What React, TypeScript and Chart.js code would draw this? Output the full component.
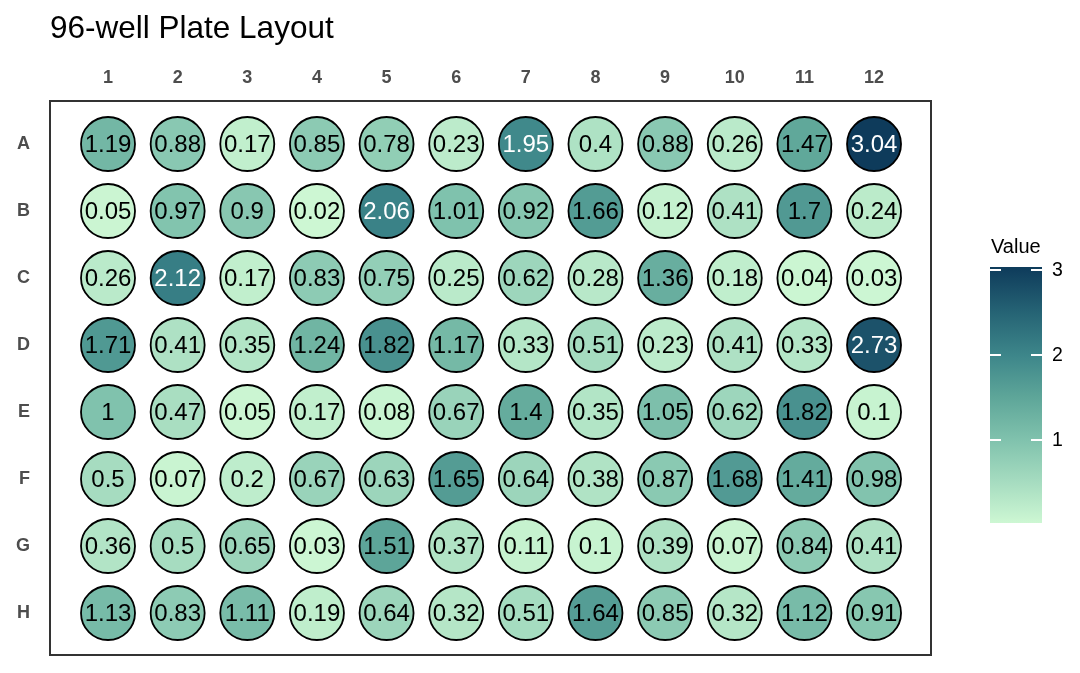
import React, { useEffect, useRef } from "react";
import { Chart, registerables } from "chart.js";

Chart.register(...registerables);

const titleText = "96-well Plate Layout";
const legendTitle = "Value";
const rowLabels = ["A", "B", "C", "D", "E", "F", "G", "H"];
const colLabels = ["1", "2", "3", "4", "5", "6", "7", "8", "9", "10", "11", "12"];

const rowA = [1.19, 0.88, 0.17, 0.85, 0.78, 0.23, 1.95, 0.4, 0.88, 0.26, 1.47, 3.04];
const rowB = [0.05, 0.97, 0.9, 0.02, 2.06, 1.01, 0.92, 1.66, 0.12, 0.41, 1.7, 0.24];
const rowC = [0.26, 2.12, 0.17, 0.83, 0.75, 0.25, 0.62, 0.28, 1.36, 0.18, 0.04, 0.03];
const rowD = [1.71, 0.41, 0.35, 1.24, 1.82, 1.17, 0.33, 0.51, 0.23, 0.41, 0.33, 2.73];
const rowE = [1, 0.47, 0.05, 0.17, 0.08, 0.67, 1.4, 0.35, 1.05, 0.62, 1.82, 0.1];
const rowF = [0.5, 0.07, 0.2, 0.67, 0.63, 1.65, 0.64, 0.38, 0.87, 1.68, 1.41, 0.98];
const rowG = [0.36, 0.5, 0.65, 0.03, 1.51, 0.37, 0.11, 0.1, 0.39, 0.07, 0.84, 0.41];
const rowH = [1.13, 0.83, 1.11, 0.19, 0.64, 0.32, 0.51, 1.64, 0.85, 0.32, 1.12, 0.91];

const plateValues = [rowA, rowB, rowC, rowD, rowE, rowF, rowG, rowH];
const legendTicks = [1, 2, 3];

// colour ramp (fraction of range -> colour)
const colorStops: [number, number[]][] = [
  [0.0, [205, 247, 211]],
  [0.16, [166, 220, 192]],
  [0.325, [128, 194, 173]],
  [0.49, [94, 166, 153]],
  [0.655, [61, 134, 138]],
  [0.82, [38, 100, 117]],
  [1.0, [14, 59, 91]],
];

const allVals = plateValues.flat();
const vMin = Math.min(...allVals);
const vMax = Math.max(...allVals);

function rampColor(v: number): string {
  const t = Math.max(0, Math.min(1, (v - vMin) / (vMax - vMin)));
  for (let i = 0; i < colorStops.length - 1; i++) {
    const [t0, c0] = colorStops[i];
    const [t1, c1] = colorStops[i + 1];
    if (t >= t0 && t <= t1) {
      const f = (t - t0) / (t1 - t0);
      const c = c0.map((x, k) => Math.round(x + (c1[k] - x) * f));
      return `rgb(${c[0]},${c[1]},${c[2]})`;
    }
  }
  const c = colorStops[colorStops.length - 1][1];
  return `rgb(${c[0]},${c[1]},${c[2]})`;
}

const FONT = '"Liberation Sans", Arial, sans-serif';

export default function App() {
  const ref = useRef<HTMLCanvasElement | null>(null);

  useEffect(() => {
    if (!ref.current) return;
    const points: { x: number; y: number; v: number }[] = [];
    plateValues.forEach((row, r) => {
      row.forEach((v, c) => points.push({ x: c + 1, y: r, v }));
    });

    const platePlugin = {
      id: "platePlugin",
      afterDatasetsDraw(chart: any) {
        const ctx = chart.ctx as CanvasRenderingContext2D;
        const meta = chart.getDatasetMeta(0);
        const a = chart.chartArea;
        ctx.save();
        // well labels
        ctx.font = `24px ${FONT}`;
        ctx.textAlign = "center";
        ctx.textBaseline = "middle";
        meta.data.forEach((el: any, i: number) => {
          const v = points[i].v;
          ctx.fillStyle = v > 1.9 ? "#ffffff" : "#000000";
          ctx.fillText(String(v), el.x, el.y + 1);
        });
        // panel border
        ctx.strokeStyle = "#333333";
        ctx.lineWidth = 2;
        ctx.strokeRect(a.left, a.top, a.right - a.left, a.bottom - a.top);
        // title
        ctx.fillStyle = "#000000";
        ctx.font = `31.5px ${FONT}`;
        ctx.textAlign = "left";
        ctx.textBaseline = "alphabetic";
        ctx.fillText(titleText, 50, 38);
        // colour bar legend
        const barL = 990, barR = 1042, barTop = 267, barBot = 523;
        const valToY = (v: number) => barBot - ((v - vMin) / (vMax - vMin)) * (barBot - barTop);
        const grad = ctx.createLinearGradient(0, barBot, 0, barTop);
        colorStops.forEach(([t, c]) => grad.addColorStop(t, `rgb(${c[0]},${c[1]},${c[2]})`));
        ctx.fillStyle = grad;
        ctx.fillRect(barL, barTop, barR - barL, barBot - barTop);
        ctx.fillStyle = "#000000";
        ctx.font = `20px ${FONT}`;
        ctx.fillText(legendTitle, 991, 253);
        ctx.strokeStyle = "#ffffff";
        ctx.lineWidth = 2;
        ctx.textBaseline = "middle";
        ctx.font = `19.5px ${FONT}`;
        legendTicks.forEach((t) => {
          const y = Math.round(valToY(t));
          ctx.beginPath();
          ctx.moveTo(barL, y);
          ctx.lineTo(barL + 11, y);
          ctx.moveTo(barR - 11, y);
          ctx.lineTo(barR, y);
          ctx.stroke();
          ctx.fillStyle = "#000000";
          ctx.fillText(String(t), 1052, y + 1);
        });
        ctx.restore();
      },
    };

    const chart = new Chart(ref.current, {
      type: "scatter",
      data: {
        datasets: [
          {
            data: points.map((p) => ({ x: p.x, y: p.y })),
            pointRadius: 27,
            pointHoverRadius: 27,
            pointBackgroundColor: points.map((p) => rampColor(p.v)),
            pointBorderColor: "#000000",
            pointBorderWidth: 1.8,
            pointHoverBorderWidth: 1.8,
          },
        ],
      },
      options: {
        animation: false,
        responsive: false,
        events: [],
        layout: { autoPadding: false, padding: { left: 0, top: 0, right: 149, bottom: 18 } },
        plugins: { legend: { display: false }, tooltip: { enabled: false }, title: { display: false } },
        scales: {
          x: {
            type: "linear",
            position: "top",
            min: 0.167,
            max: 12.818,
            grid: { display: false, drawTicks: false },
            border: { display: false },
            afterFit: (s: any) => {
              s.height = 101;
              s.paddingLeft = 0;
              s.paddingRight = 0;
            },
            afterBuildTicks: (s: any) => {
              s.ticks = colLabels.map((_, i) => ({ value: i + 1 }));
            },
            ticks: {
              padding: 12,
              color: "#4d4d4d",
              font: { family: FONT, size: 18, weight: "bold" },
              autoSkip: false,
              maxRotation: 0,
              callback: (v: any) => colLabels[Math.round(Number(v)) - 1] ?? "",
            },
          },
          y: {
            type: "linear",
            reverse: true,
            min: -0.642,
            max: 7.627,
            grid: { display: false, drawTicks: false },
            border: { display: false },
            afterFit: (s: any) => {
              s.width = 50;
              s.paddingTop = 0;
              s.paddingBottom = 0;
            },
            afterBuildTicks: (s: any) => {
              s.ticks = rowLabels.map((_, i) => ({ value: i }));
            },
            ticks: {
              padding: 20,
              color: "#4d4d4d",
              font: { family: FONT, size: 18, weight: "bold" },
              autoSkip: false,
              callback: (v: any) => rowLabels[Math.round(Number(v))] ?? "",
            },
          },
        },
      } as any,
      plugins: [platePlugin],
    });
    return () => chart.destroy();
  }, []);

  return (
    <div style={{ position: "absolute", left: 0, top: 0, width: 1080, height: 673, background: "#ffffff" }}>
      <canvas ref={ref} width={1080} height={673} />
    </div>
  );
}
